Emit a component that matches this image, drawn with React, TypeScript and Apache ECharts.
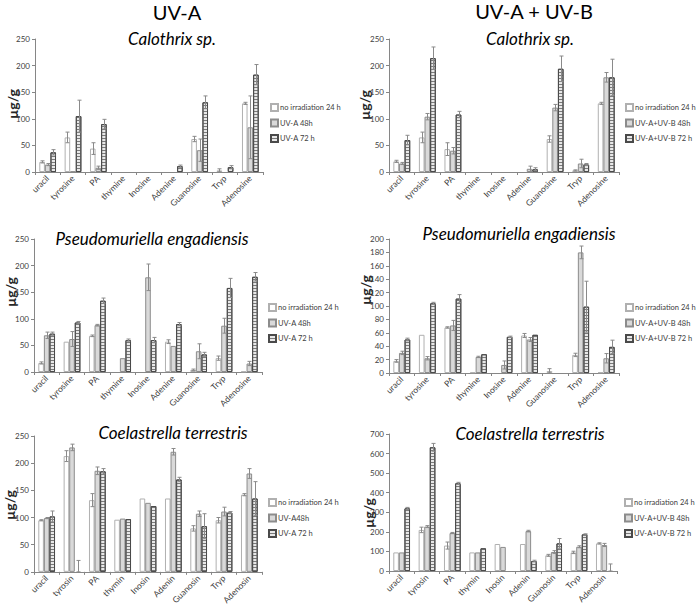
import React, { useEffect, useRef } from 'react';
import * as echarts from 'echarts';

// ---------- data ----------
const categoriesA = ['uracil', 'tyrosine', 'PA', 'thymine', 'Inosine', 'Adenine', 'Guanosine', 'Tryp', 'Adenosine'];
const categoriesC = ['uracil', 'tyrosin', 'PA', 'thymin', 'Inosin', 'Adenin', 'Guanosin', 'Tryp', 'Adenosin'];

const namesUVA = ['no irradiation 24 h', 'UV-A 48h', 'UV-A 72 h'];
const namesUVAB = ['no irradiation 24 h', 'UV-A+UV-B 48h', 'UV-A+UV-B 72 h'];
const namesUVA2 = ['no irradiation 24 h', 'UV-A48h', 'UV-A 72 h'];

// Calothrix sp. – UV-A
const calA24 = [19, 65, 44, 0, 0, 0, 62, 3, 129];
const calA24Err = [2, 10, 11, 0, 0, 0, 5, 3, 2];
const calA48 = [14, 1, 8, 0, 0, 0, 41, 0, 84];
const calA48Err = [2, 0, 3, 0, 0, 0, 21, 0, 59];
const calA72 = [37, 105, 90, 0, 0, 11, 131, 9, 183];
const calA72Err = [5, 30, 9, 0, 0, 2, 12, 3, 19];

// Calothrix sp. – UV-A + UV-B
const calB24 = [20, 65, 43, 0, 0, 0, 62, 3, 129];
const calB24Err = [2, 10, 12, 0, 0, 0, 6, 1, 2];
const calB48 = [16, 104, 40, 0, 0, 6, 121, 16, 178];
const calB48Err = [2, 6, 6, 0, 0, 5, 6, 8, 9];
const calB72 = [60, 214, 108, 0, 0, 5, 194, 14, 178];
const calB72Err = [9, 21, 6, 0, 0, 3, 24, 2, 34];

// Pseudomuriella engadiensis – UV-A
const psA24 = [17, 57, 68, 0, 0, 57, 4, 26, 1];
const psA24Err = [2, 0, 1.5, 0, 0, 3.5, 1.5, 4, 0];
const psA48 = [69, 62, 88, 26, 178, 49, 39, 87, 16];
const psA48Err = [6, 14, 1.5, 0, 25, 0, 14, 14, 4];
const psA72 = [72, 93, 134, 60, 60, 90, 33, 158, 179];
const psA72Err = [3, 2, 5, 2, 5, 3, 4, 18, 8];

// Pseudomuriella engadiensis – UV-A + UV-B
const psB24 = [18, 57, 68, 1, 0, 56, 3, 27, 1];
const psB24Err = [2, 0, 1, 0, 0, 3, 3.5, 2.5, 0];
const psB48 = [30, 22, 71, 24, 12, 50, 0, 180, 22];
const psB48Err = [2.5, 2.5, 7.5, 1, 6, 3, 0, 9.5, 7];
const psB72 = [50, 104, 111, 28, 54, 57, 0, 99, 39];
const psB72Err = [2, 1.5, 6, 0, 1, 0, 0, 38, 10];

// Coelastrella terrestris – UV-A
const coA24 = [95, 213, 132, 96, 135, 135, 80, 95, 142];
const coA24Err = [1, 10, 12, 0, 0, 0, 5, 5, 2];
const coA48 = [99, 229, 186, 98, 127, 221, 107, 111, 181];
const coA48Err = [1, 6, 7, 0, 0, 6, 5, 8, 9];
const coA72 = [102, 0, 185, 97, 121, 170, 84, 109, 135];
const coA72Err = [10, 21, 5, 0, 0, 4, 23, 2, 31];

// Coelastrella terrestris – UV-A + UV-B
const coB24 = [95, 210, 130, 95, 138, 138, 80, 95, 141];
const coB24Err = [0, 14, 18, 0, 0, 0, 5, 6, 3];
const coB48 = [95, 227, 194, 95, 123, 204, 97, 124, 133];
const coB48Err = [0, 5, 3, 0, 0, 4, 7, 5, 8];
const coB72 = [320, 632, 448, 116, 0, 51, 141, 187, 0];
const coB72Err = [5, 20, 5, 0, 0, 4, 25, 3, 36];

// ---------- layout ----------
const FONT = 'Lato';
const panels = [
  { cats: categoriesA, names: namesUVA, vals: [calA24, calA48, calA72], errs: [calA24Err, calA48Err, calA72Err], max: 250, interval: 50,
    grid: { left: 35, top: 39, width: 228, height: 133 }, legend: { left: 270, top: 103 }, sub: { text: 'Calothrix sp.', x: 172, y: 38 }, yName: { x: 12, y: 104 } },
  { cats: categoriesA, names: namesUVAB, vals: [calB24, calB48, calB72], errs: [calB24Err, calB48Err, calB72Err], max: 250, interval: 50,
    grid: { left: 389, top: 39, width: 230, height: 133 }, legend: { left: 625, top: 103 }, sub: { text: 'Calothrix sp.', x: 530, y: 38 }, yName: { x: 364, y: 105 } },
  { cats: categoriesA, names: namesUVA, vals: [psA24, psA48, psA72], errs: [psA24Err, psA48Err, psA72Err], max: 250, interval: 50,
    grid: { left: 34, top: 239, width: 228, height: 133 }, legend: { left: 268, top: 303 }, sub: { text: 'Pseudomuriella engadiensis', x: 152, y: 238 }, yName: { x: 10, y: 292 } },
  { cats: categoriesA, names: namesUVAB, vals: [psB24, psB48, psB72], errs: [psB24Err, psB48Err, psB72Err], max: 200, interval: 20,
    grid: { left: 389, top: 239, width: 230, height: 134 }, legend: { left: 625, top: 303 }, sub: { text: 'Pseudomuriella engadiensis', x: 519, y: 233 }, yName: { x: 365, y: 290 } },
  { cats: categoriesC, names: namesUVA2, vals: [coA24, coA48, coA72], errs: [coA24Err, coA48Err, coA72Err], max: 250, interval: 50,
    grid: { left: 34, top: 436, width: 228, height: 136 }, legend: { left: 268, top: 498 }, sub: { text: 'Coelastrella terrestris', x: 173, y: 432 }, yName: { x: 9, y: 505 } },
  { cats: categoriesC, names: namesUVAB, vals: [coB24, coB48, coB72], errs: [coB24Err, coB48Err, coB72Err], max: 700, interval: 100,
    grid: { left: 389, top: 434, width: 228, height: 137 }, legend: { left: 624, top: 498 }, sub: { text: 'Coelastrella terrestris', x: 530, y: 433 }, yName: { x: 368, y: 513 } },
];

const BAR_FRAC = 0.22;

const barStyles = [
  { color: '#ffffff', borderColor: '#b0b0b0', borderWidth: 1 },
  { color: '#d9d9d9', borderColor: '#8c8c8c', borderWidth: 1 },
  {
    color: '#e8e8e8', borderColor: '#4a4a4a', borderWidth: 1,
    decal: { symbol: 'rect', symbolSize: 1, dashArrayX: [10, 0], dashArrayY: [1, 1.5], color: '#7a7a7a', rotation: 0 },
  },
];

function buildOption() {
  const grid: any[] = [];
  const xAxis: any[] = [];
  const yAxis: any[] = [];
  const legend: any[] = [];
  const series: any[] = [];
  const graphic: any[] = [];

  panels.forEach((p, pi) => {
    grid.push({ ...p.grid, containLabel: false });
    xAxis.push({
      type: 'category', gridIndex: pi, data: p.cats,
      axisLine: { lineStyle: { color: '#868686', width: 1 } },
      axisTick: { show: true, length: 3, lineStyle: { color: '#868686' } },
      axisLabel: { rotate: 45, fontSize: 8.5, color: '#404040', fontFamily: FONT, margin: 5, interval: 0 },
    });
    yAxis.push({
      type: 'value', gridIndex: pi, min: 0, max: p.max, interval: p.interval,
      axisLine: { show: true, lineStyle: { color: '#868686', width: 1 } },
      axisTick: { show: true, length: 3, lineStyle: { color: '#868686' } },
      splitLine: { show: false },
      axisLabel: { fontSize: 8, color: '#404040', fontFamily: FONT, margin: 5 },
    });
    legend.push({
      data: p.names, orient: 'vertical', left: p.legend.left, top: p.legend.top,
      itemWidth: 7, itemHeight: 7, itemGap: 6.5, icon: 'rect', padding: 0,
      textStyle: { fontSize: 7.5, color: '#404040', fontFamily: FONT, padding: [0, 0, 0, -3] },
      selectedMode: false,
    });
    const band = p.grid.width / p.cats.length;
    p.vals.forEach((vals, si) => {
      series.push({
        type: 'bar', name: p.names[si], xAxisIndex: pi, yAxisIndex: pi,
        data: vals.map((v) => (v === 0 ? '-' : v)), barWidth: (BAR_FRAC * 100) + '%', barGap: '0%',
        itemStyle: barStyles[si], emphasis: { disabled: true },
      });
      const errData = vals.map((v, i) => [i, v, p.errs[si][i]]).filter((d) => d[2] > 0);
      series.push({
        type: 'custom', name: 'err' + pi + '_' + si, xAxisIndex: pi, yAxisIndex: pi, z: 5, clip: false,
        data: errData, encode: { x: 0, y: 1 },
        renderItem: (params: any, api: any) => {
          const x = api.value(0), v = api.value(1), e = api.value(2);
          const c = api.coord([x, v]);
          const px = Math.round(c[0] + (si - 1) * BAR_FRAC * band) + 0.5;
          const hi = api.coord([x, v + e])[1];
          const lo = api.coord([x, Math.max(0, v - e)])[1];
          const st = { stroke: '#8a8a8a', lineWidth: 1 };
          return {
            type: 'group',
            children: [
              { type: 'line', shape: { x1: px, y1: hi, x2: px, y2: lo }, style: st },
              { type: 'line', shape: { x1: px - 2, y1: hi, x2: px + 2, y2: hi }, style: st },
              { type: 'line', shape: { x1: px - 2, y1: lo, x2: px + 2, y2: lo }, style: st },
            ],
          };
        },
      });
    });
    graphic.push({
      type: 'text', x: p.sub.x, y: p.sub.y,
      style: { text: p.sub.text, font: 'italic 17px ' + FONT, fill: '#000', textAlign: 'center', textVerticalAlign: 'middle', align: 'center', verticalAlign: 'middle' },
    });
    graphic.push({
      type: 'text', x: p.yName.x, y: p.yName.y, rotation: Math.PI / 2,
      style: { text: 'µg/g', font: 'bold 14px ' + FONT, fill: '#262626', textAlign: 'center', textVerticalAlign: 'middle', align: 'center', verticalAlign: 'middle' },
    });
  });

  graphic.push({
    type: 'text', x: 177, y: 12,
    style: { text: 'UV-A', font: '20px ' + FONT, fill: '#000', textAlign: 'center', textVerticalAlign: 'middle', align: 'center', verticalAlign: 'middle' },
  });
  graphic.push({
    type: 'text', x: 534, y: 11,
    style: { text: 'UV-A + UV-B', font: '20px ' + FONT, fill: '#000', textAlign: 'center', textVerticalAlign: 'middle', align: 'center', verticalAlign: 'middle' },
  });

  return {
    animation: false,
    backgroundColor: '#ffffff',
    grid, xAxis, yAxis, legend, series, graphic,
  };
}

export default function App() {
  const ref = useRef<HTMLDivElement>(null);
  useEffect(() => {
    if (!ref.current) return;
    const chart = echarts.init(ref.current, undefined, { renderer: 'svg' });
    chart.setOption(buildOption() as any);
    return () => chart.dispose();
  }, []);
  return <div ref={ref} style={{ position: 'absolute', left: 0, top: 0, width: 697, height: 607, background: '#fff' }} />;
}
